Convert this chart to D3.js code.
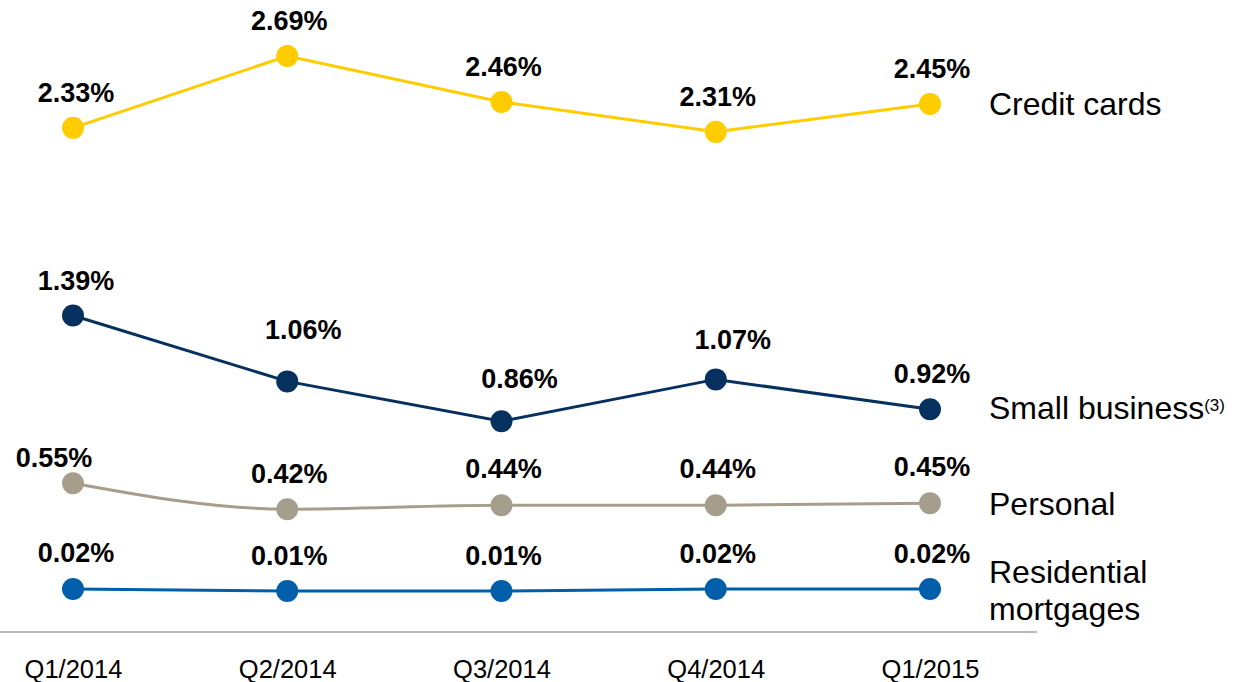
<!DOCTYPE html>
<html>
<head>
<meta charset="utf-8">
<script src="https://cdn.jsdelivr.net/npm/d3@7/dist/d3.min.js"></script>
<style>
  html, body { margin: 0; padding: 0; background: #ffffff; }
  svg { display: block; font-family: "Liberation Sans", Arial, sans-serif; }
</style>
</head>
<body>
<svg id="chart" width="1242" height="682"></svg>
<script>
// ---- data ----
const categories = ["Q1/2014", "Q2/2014", "Q3/2014", "Q4/2014", "Q1/2015"];
const creditCards = [2.33, 2.69, 2.46, 2.31, 2.45];
const smallBusiness = [1.39, 1.06, 0.86, 1.07, 0.92];
const personal = [0.55, 0.42, 0.44, 0.44, 0.45];
const residentialMortgages = [0.02, 0.01, 0.01, 0.02, 0.02];
const seriesNames = ["Credit cards", "Small business", "Personal", "Residential mortgages"];

// ---- presentation ----
const series = [
  { name: seriesNames[0], values: creditCards, color: "#FFCC00", curve: d3.curveLinear,
    nudge: [[3, 0], [2, 0], [2, 0], [2, 0], [2, 0]] },
  { name: seriesNames[1], values: smallBusiness, color: "#06315F", curve: d3.curveLinear, sup: "(3)",
    nudge: [[3, 0], [16, -16], [18, -7], [17, -4], [2, 0]] },
  { name: seriesNames[2], values: personal, color: "#A59E8C", curve: d3.curveMonotoneX,
    nudge: [[-19, 10], [2, 0], [2, -1], [2, -1], [2, -1]] },
  { name: seriesNames[3], values: residentialMortgages, color: "#005EAA", curve: d3.curveLinear,
    nudge: [[3, -1], [2, 0], [2, 0], [2, 0], [2, 0]] }
];

const svg = d3.select("#chart");

const x = d3.scalePoint().domain(categories).range([73, 930]);
const y = d3.scaleLinear().domain([0, 2.69]).range([593, 56]);

// baseline axis
const axisY = 632;
svg.append("line")
  .attr("x1", 0).attr("x2", 1037)
  .attr("y1", axisY).attr("y2", axisY)
  .attr("stroke", "#A89F8F").attr("stroke-width", 1.5);

const xAxis = d3.axisBottom(x).tickSize(0).tickPadding(0);
const gx = svg.append("g").attr("transform", `translate(0,${axisY})`).call(xAxis);
gx.select(".domain").remove();
gx.selectAll("text")
  .attr("dy", null)
  .attr("y", 46)
  .attr("fill", "#000")
  .style("font-size", "25.5px")
  .style("font-family", "'Liberation Sans', Arial, sans-serif");

// lines, points, labels
series.forEach(s => {
  const line = d3.line()
    .x((d, i) => x(categories[i]))
    .y(d => y(d))
    .curve(s.curve);

  svg.append("path")
    .datum(s.values)
    .attr("d", line)
    .attr("fill", "none")
    .attr("stroke", s.color)
    .attr("stroke-width", 3);

  svg.append("g").selectAll("circle")
    .data(s.values)
    .join("circle")
    .attr("cx", (d, i) => x(categories[i]))
    .attr("cy", d => y(d))
    .attr("r", 11)
    .attr("fill", s.color);

  svg.append("g").selectAll("text")
    .data(s.values)
    .join("text")
    .attr("x", (d, i) => x(categories[i]) + s.nudge[i][0])
    .attr("y", (d, i) => y(d) - 26 + s.nudge[i][1])
    .attr("text-anchor", "middle")
    .attr("font-weight", "bold")
    .attr("font-size", "27px")
    .attr("fill", "#000")
    .text(d => d.toFixed(2) + "%");
});

// series labels at right
const lastY = s => y(s.values[s.values.length - 1]);
const labelX = 989;

// Credit cards
svg.append("text")
  .attr("x", labelX).attr("y", lastY(series[0]) + 11)
  .attr("font-size", "32px").attr("fill", "#000")
  .text(series[0].name);

// Small business with superscript
const sb = svg.append("text")
  .attr("x", labelX).attr("y", lastY(series[1]) + 10)
  .attr("font-size", "32px").attr("fill", "#000");
sb.append("tspan").text(series[1].name);
sb.append("tspan").attr("font-size", "17px").attr("dy", "-8").text(series[1].sup);

// Personal
svg.append("text")
  .attr("x", labelX).attr("y", lastY(series[2]) + 12)
  .attr("font-size", "32px").attr("fill", "#000")
  .text(series[2].name);

// Residential mortgages (two lines)
const rm = svg.append("text")
  .attr("x", labelX).attr("y", lastY(series[3]) - 6)
  .attr("font-size", "32px").attr("fill", "#000");
const words = series[3].name.split(" ");
rm.append("tspan").attr("x", labelX).text(words[0]);
rm.append("tspan").attr("x", labelX).attr("dy", 37).text(words[1]);
</script>
</body>
</html>
